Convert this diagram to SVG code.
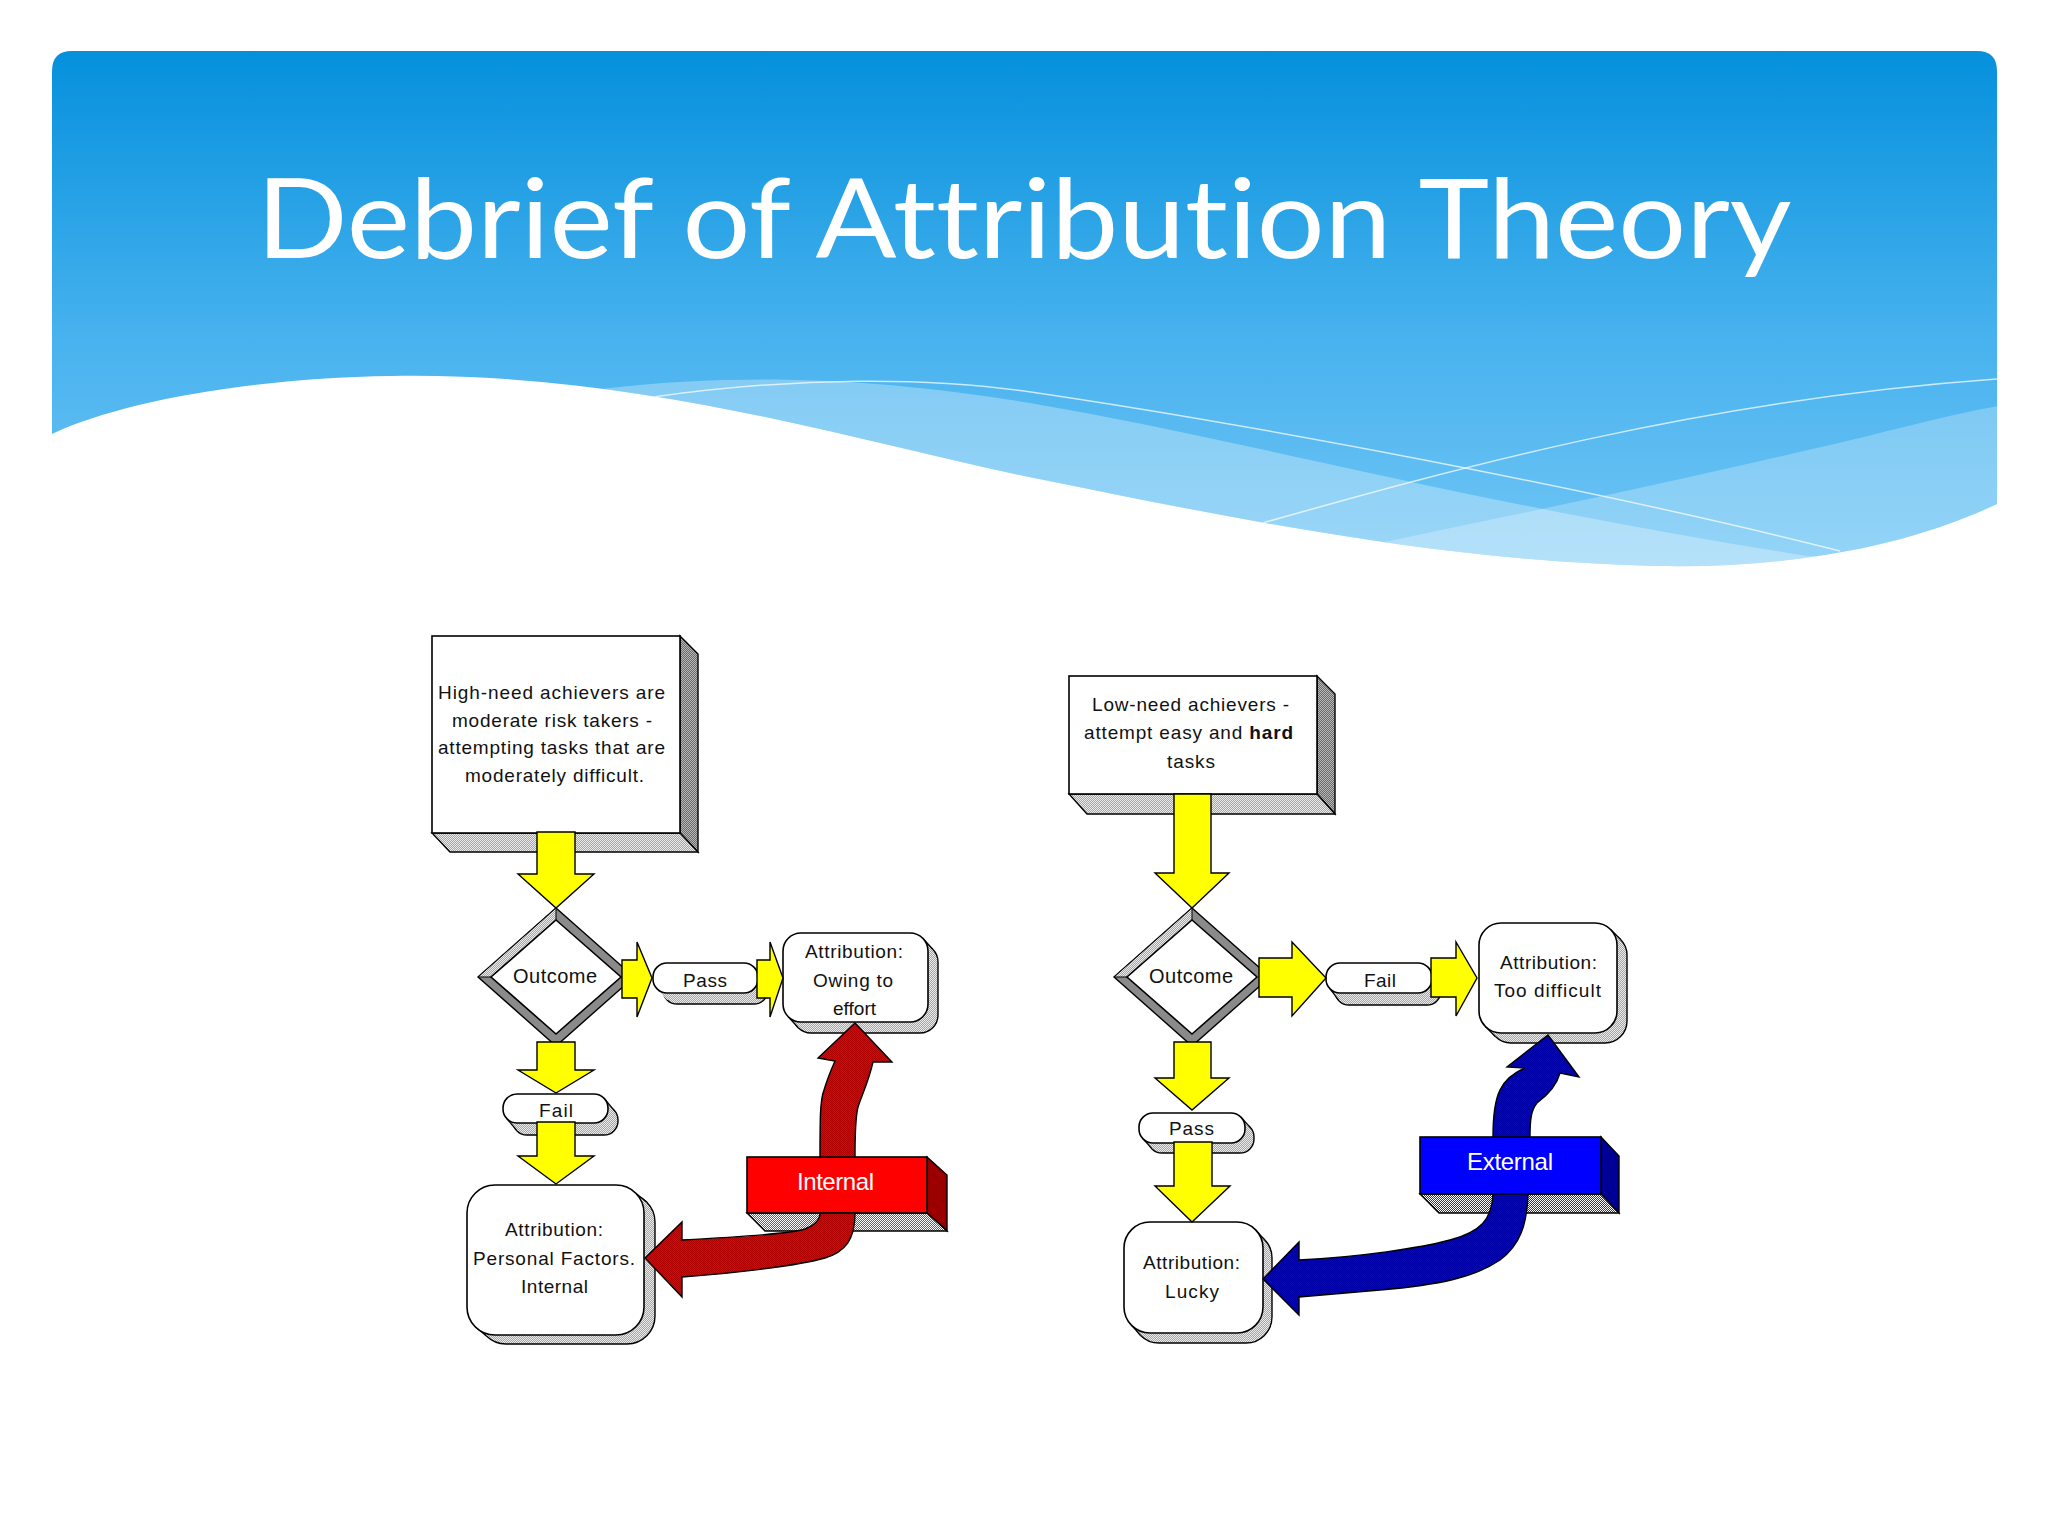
<svg xmlns="http://www.w3.org/2000/svg" width="2048" height="1536" viewBox="0 0 2048 1536">
<defs>
<linearGradient id="hdrGrad" x1="0" y1="51" x2="0" y2="570" gradientUnits="userSpaceOnUse">
<stop offset="0" stop-color="#0590dc"/>
<stop offset="0.55" stop-color="#47b2ee"/>
<stop offset="1" stop-color="#72c6f5"/>
</linearGradient>
<clipPath id="hdrClip"><path d="M52,71 Q52,51 72,51 L1977,51 Q1997,51 1997,71 L1997,504 C1900,550 1780,568 1660,566 C1450,562 1250,522 1024,476 C850,440 640,372 392,376 C250,378 120,402 52,434 Z"/></clipPath>
<pattern id="pGreyD" width="2" height="2" patternUnits="userSpaceOnUse"><rect width="2" height="2" fill="#6a6a6a"/><rect width="1" height="1" fill="#b8b8b8"/><rect x="1" y="1" width="1" height="1" fill="#b8b8b8"/></pattern>
<pattern id="pGreyL" width="2" height="2" patternUnits="userSpaceOnUse"><rect width="2" height="2" fill="#a4a4a4"/><rect width="1" height="1" fill="#ececec"/><rect x="1" y="1" width="1" height="1" fill="#ececec"/></pattern>
<pattern id="pPink" width="2" height="2" patternUnits="userSpaceOnUse"><rect width="2" height="2" fill="#ff2020"/><rect width="1" height="1" fill="#ffffff"/><rect x="1" y="1" width="1" height="1" fill="#ffffff"/></pattern>
<pattern id="pBlueL" width="2" height="2" patternUnits="userSpaceOnUse"><rect width="2" height="2" fill="#2020ff"/><rect width="1" height="1" fill="#ffffff"/><rect x="1" y="1" width="1" height="1" fill="#ffffff"/></pattern>
<pattern id="pRedArrow" width="2" height="2" patternUnits="userSpaceOnUse"><rect width="2" height="2" fill="#e80000"/><rect width="1" height="1" fill="#b00000"/><rect x="1" y="1" width="1" height="1" fill="#b00000"/></pattern>
<pattern id="pBlueArrow" width="2" height="2" patternUnits="userSpaceOnUse"><rect width="2" height="2" fill="#0000e0"/><rect width="1" height="1" fill="#0000a8"/><rect x="1" y="1" width="1" height="1" fill="#0000a8"/></pattern>
<pattern id="pRedSide" width="2" height="2" patternUnits="userSpaceOnUse"><rect width="2" height="2" fill="#800000"/><rect width="1" height="1" fill="#a00000"/><rect x="1" y="1" width="1" height="1" fill="#a00000"/></pattern>
<pattern id="pBlueSide" width="2" height="2" patternUnits="userSpaceOnUse"><rect width="2" height="2" fill="#000070"/><rect width="1" height="1" fill="#000098"/><rect x="1" y="1" width="1" height="1" fill="#000098"/></pattern>
</defs>
<style>
.t{font-family:"Liberation Sans",Arial,sans-serif;font-size:19px;fill:#111}
.tw{font-family:"Liberation Sans",Arial,sans-serif;font-size:24px;fill:#ffffff}
.title{font-family:Lato,"Open Sans",sans-serif;font-size:111px;fill:#ffffff;font-variant-ligatures:none;font-feature-settings:"liga" 0,"dlig" 0}
.front{fill:#ffffff;stroke:#000;stroke-width:1.6}
.sideD{fill:url(#pGreyD);stroke:#000;stroke-width:1.4}
.sideL{fill:url(#pGreyL);stroke:#000;stroke-width:1.4}
.shb{fill:url(#pGreyL);stroke:#000;stroke-width:1.4}
.shp{fill:url(#pGreyL);stroke:none}
.shl{stroke:#000;stroke-width:1.4}
.band{fill:#8a8a8a;stroke:#000;stroke-width:1.4}
.bandL{fill:url(#pGreyL);stroke:#000;stroke-width:1}
.yel{fill:#ffff00;stroke:#000;stroke-width:1.4;stroke-linejoin:miter}
.redA{fill:url(#pRedArrow);stroke:#000;stroke-width:1.4}
.bluA{fill:url(#pBlueArrow);stroke:#000;stroke-width:1.4}
</style>

<rect x="0" y="0" width="2048" height="1536" fill="#ffffff"/>

<g id="header">
<path d="M52,71 Q52,51 72,51 L1977,51 Q1997,51 1997,71 L1997,504 C1900,550 1780,568 1660,566 C1450,562 1250,522 1024,476 C850,440 640,372 392,376 C250,378 120,402 52,434 Z" fill="url(#hdrGrad)"/>
<g clip-path="url(#hdrClip)">
<path d="M601,389 C760,370 900,382 1024,402 C1250,440 1450,500 1808,556 L1998,556 L1998,620 L600,620 Z" fill="#ffffff" fill-opacity="0.3"/>
<path d="M1370,545 C1480,522 1650,487 1808,450 C1880,434 1950,414 1998,406 L1998,620 L1370,620 Z" fill="#ffffff" fill-opacity="0.25"/>
<path d="M653,397 C800,376 930,378 1024,391 C1250,424 1600,490 1840,551" fill="none" stroke="#ffffff" stroke-opacity="0.7" stroke-width="1.5"/>
<path d="M1259,524 C1450,470 1700,400 1997,379" fill="none" stroke="#ffffff" stroke-opacity="0.7" stroke-width="1.5"/>
</g>
<text class="title" x="1024" y="258" text-anchor="middle" textLength="1535" lengthAdjust="spacingAndGlyphs">Debrief of Attribution Theory</text>
</g>

<!-- LEFT DIAGRAM -->
<g id="node-high-need">
<polygon class="sideD" points="680,636 698,654 698,852 680,833"/>
<polygon class="sideL" points="432,833 680,833 698,852 450,852"/>
<rect class="front" x="432" y="636" width="248" height="197"/>
<text class="t" x="438" y="699" textLength="227" lengthAdjust="spacing">High-need achievers are</text>
<text class="t" x="452" y="727" textLength="200" lengthAdjust="spacing">moderate risk takers -</text>
<text class="t" x="438" y="754" textLength="227" lengthAdjust="spacing">attempting tasks that are</text>
<text class="t" x="465" y="782" textLength="179" lengthAdjust="spacing">moderately difficult.</text>
</g>

<g id="node-outcome-left">
<polygon class="band" points="556,908 634,977 556,1046 478,977"/>
<polygon class="bandL" points="478,977 556,908 556,920 491,977"/>
<polygon class="front" points="556,920 621,977 556,1034 491,977"/>
<text class="t" x="513" y="983" textLength="84" lengthAdjust="spacing" style="font-size:20px">Outcome</text>
</g>

<g id="node-pass-left">
<rect class="shb" x="663" y="974" width="105" height="30" rx="14"/>
<polygon class="shp" points="753.9,967.1 763.9,978.1 667.1,999.9 657.1,988.9"/>
<line class="shl" x1="753.9" y1="967.1" x2="763.9" y2="978.1"/>
<rect class="front" x="653" y="963" width="105" height="30" rx="14"/>
<text class="t" x="683" y="987" textLength="44" lengthAdjust="spacing">Pass</text>
</g>

<g id="node-owing">
<rect class="shb" x="793" y="944" width="145" height="89" rx="18"/>
<polygon class="shp" points="922.7,938.3 932.7,949.3 798.3,1027.7 788.3,1016.7"/>
<line class="shl" x1="922.7" y1="938.3" x2="932.7" y2="949.3"/>
<line class="shl" x1="788.3" y1="1016.7" x2="798.3" y2="1027.7"/>
<rect class="front" x="783" y="933" width="145" height="89" rx="18"/>
<text class="t" x="805" y="958" textLength="98" lengthAdjust="spacing">Attribution:</text>
<text class="t" x="813" y="987" textLength="80" lengthAdjust="spacing">Owing to</text>
<text class="t" x="833" y="1015" textLength="43" lengthAdjust="spacing">effort</text>
</g>

<g id="node-fail-left">
<rect class="shb" x="513" y="1106" width="105" height="29" rx="14"/>
<polygon class="shp" points="603.9,1098.1 613.9,1110.1 517.1,1130.9 507.1,1118.9"/>
<line class="shl" x1="603.9" y1="1098.1" x2="613.9" y2="1110.1"/>
<line class="shl" x1="507.1" y1="1118.9" x2="517.1" y2="1130.9"/>
<rect class="front" x="503" y="1094" width="105" height="29" rx="14"/>
<text class="t" x="539" y="1117" textLength="34" lengthAdjust="spacing">Fail</text>
</g>

<g id="node-personal">
<rect class="shb" x="478" y="1194" width="177" height="150" rx="28"/>
<polygon class="shp" points="635.8,1193.2 646.8,1202.2 486.2,1335.8 475.2,1326.8"/>
<line class="shl" x1="635.8" y1="1193.2" x2="646.8" y2="1202.2"/>
<line class="shl" x1="475.2" y1="1326.8" x2="486.2" y2="1335.8"/>
<rect class="front" x="467" y="1185" width="177" height="150" rx="28"/>
<text class="t" x="505" y="1236" textLength="98" lengthAdjust="spacing">Attribution:</text>
<text class="t" x="473" y="1265" textLength="162" lengthAdjust="spacing">Personal Factors.</text>
<text class="t" x="521" y="1293" textLength="67" lengthAdjust="spacing">Internal</text>
</g>

<g id="node-internal">
<polygon points="927,1157 947,1175 947,1231 927,1213" fill="url(#pRedSide)" stroke="#000" stroke-width="1.4"/>
<polygon points="747,1213 927,1213 947,1231 765,1231" fill="url(#pPink)" stroke="#000" stroke-width="1.4"/>
<rect x="747" y="1157" width="180" height="56" fill="#ff0000" stroke="#000" stroke-width="1.6"/>
<text class="tw" x="797" y="1190" textLength="77" lengthAdjust="spacing">Internal</text>
</g>

<!-- RIGHT DIAGRAM -->
<g id="node-low-need">
<polygon class="sideD" points="1317,676 1335,694 1335,814 1317,794"/>
<polygon class="sideL" points="1069,794 1317,794 1335,814 1087,814"/>
<rect class="front" x="1069" y="676" width="248" height="118"/>
<text class="t" x="1092" y="711" textLength="197" lengthAdjust="spacing">Low-need achievers -</text>
<text class="t" x="1084" y="739" textLength="209" lengthAdjust="spacing">attempt easy and <tspan font-weight="bold">hard</tspan></text>
<text class="t" x="1167" y="768" textLength="48" lengthAdjust="spacing">tasks</text>
</g>

<g id="node-outcome-right">
<polygon class="band" points="1192,908 1270,977 1192,1046 1114,977"/>
<polygon class="bandL" points="1114,977 1192,908 1192,920 1127,977"/>
<polygon class="front" points="1192,920 1257,977 1192,1034 1127,977"/>
<text class="t" x="1149" y="983" textLength="84" lengthAdjust="spacing" style="font-size:20px">Outcome</text>
</g>

<g id="node-fail-right">
<rect class="shb" x="1335" y="975" width="106" height="30" rx="14"/>
<polygon class="shp" points="1427.9,967.1 1436.9,979.1 1339.1,1000.9 1330.1,988.9"/>
<line class="shl" x1="1427.9" y1="967.1" x2="1436.9" y2="979.1"/>
<line class="shl" x1="1330.1" y1="988.9" x2="1339.1" y2="1000.9"/>
<rect class="front" x="1326" y="963" width="106" height="30" rx="14"/>
<text class="t" x="1364" y="987" textLength="32" lengthAdjust="spacing">Fail</text>
</g>

<g id="node-too-difficult">
<rect class="shb" x="1489" y="933" width="138" height="110" rx="22"/>
<polygon class="shp" points="1610.6,929.4 1620.6,939.4 1495.4,1036.6 1485.4,1026.6"/>
<line class="shl" x1="1610.6" y1="929.4" x2="1620.6" y2="939.4"/>
<line class="shl" x1="1485.4" y1="1026.6" x2="1495.4" y2="1036.6"/>
<rect class="front" x="1479" y="923" width="138" height="110" rx="22"/>
<text class="t" x="1500" y="969" textLength="97" lengthAdjust="spacing">Attribution:</text>
<text class="t" x="1494" y="997" textLength="107" lengthAdjust="spacing">Too difficult</text>
</g>

<g id="node-pass-right">
<rect class="shb" x="1148" y="1123" width="106" height="30" rx="14"/>
<polygon class="shp" points="1240.9,1117.1 1249.9,1127.1 1152.1,1148.9 1143.1,1138.9"/>
<line class="shl" x1="1240.9" y1="1117.1" x2="1249.9" y2="1127.1"/>
<line class="shl" x1="1143.1" y1="1138.9" x2="1152.1" y2="1148.9"/>
<rect class="front" x="1139" y="1113" width="106" height="30" rx="14"/>
<text class="t" x="1169" y="1135" textLength="45" lengthAdjust="spacing">Pass</text>
</g>

<g id="node-lucky">
<rect class="shb" x="1133" y="1232" width="139" height="111" rx="26"/>
<polygon class="shp" points="1255.4,1229.6 1264.4,1239.6 1140.6,1335.4 1131.6,1325.4"/>
<line class="shl" x1="1255.4" y1="1229.6" x2="1264.4" y2="1239.6"/>
<line class="shl" x1="1131.6" y1="1325.4" x2="1140.6" y2="1335.4"/>
<rect class="front" x="1124" y="1222" width="139" height="111" rx="26"/>
<text class="t" x="1143" y="1269" textLength="97" lengthAdjust="spacing">Attribution:</text>
<text class="t" x="1165" y="1298" textLength="54" lengthAdjust="spacing">Lucky</text>
</g>

<g id="node-external">
<polygon points="1601,1137 1619,1156 1619,1213 1601,1194" fill="url(#pBlueSide)" stroke="#000" stroke-width="1.4"/>
<polygon points="1420,1194 1601,1194 1619,1213 1439,1213" fill="url(#pBlueL)" stroke="#000" stroke-width="1.4"/>
<rect x="1420" y="1137" width="181" height="57" fill="#0000ff" stroke="#000" stroke-width="1.6"/>
<text class="tw" x="1467" y="1170" textLength="86" lengthAdjust="spacing">External</text>
</g>

<g id="connectors">
<polygon class="yel" points="537,832 575,832 575,874 594,874 556,908 518,874 537,874"/>
<polygon class="yel" points="622,960 637,960 637,942 652,978 637,1017 637,998 622,998"/>
<polygon class="yel" points="757,960 770,960 770,942 783,978 770,1017 770,998 757,998"/>
<polygon class="yel" points="537,1042 575,1042 575,1070 594,1070 556,1093 518,1070 537,1070"/>
<polygon class="yel" points="537,1122 575,1122 575,1156 594,1156 556,1184 518,1156 537,1156"/>
<polygon class="yel" points="1174,794 1211,794 1211,873 1229,873 1192,908 1155,873 1174,873"/>
<polygon class="yel" points="1259,958 1292,958 1292,942 1326,978 1292,1016 1292,997 1259,997"/>
<polygon class="yel" points="1431,958 1456,958 1456,942 1477,978 1456,1016 1456,997 1431,997"/>
<polygon class="yel" points="1174,1042 1211,1042 1211,1078 1229,1078 1192,1110 1155,1078 1174,1078"/>
<polygon class="yel" points="1174,1142 1212,1142 1212,1186 1230,1186 1192,1222 1155,1186 1174,1186"/>
<path class="redA" d="M855,1023 L892,1062 L873,1062 C869,1080 862,1095 858,1107 C856,1115 855,1125 855,1157 L820,1157 C820,1120 820,1100 824,1090 C827,1080 831,1070 835,1061 L818,1058 Z"/>
<path class="redA" d="M855,1213 C855,1240 845,1252 825,1258 C800,1265 740,1273 682,1277 L682,1297 L645,1258 L682,1222 L682,1240 C740,1237 790,1234 805,1229 C815,1225 820,1219 820,1213 Z"/>
<path class="bluA" d="M1548,1035 L1579,1077 L1560,1073 C1556,1088 1545,1097 1537,1103 C1531,1110 1530,1120 1530,1137 L1493,1137 C1493,1115 1495,1100 1500,1090 C1505,1080 1513,1073 1525,1068 L1507,1067 Z"/>
<path class="bluA" d="M1528,1194 C1527,1225 1520,1245 1500,1260 C1475,1277 1440,1285 1380,1290 L1299,1297 L1299,1315 L1263,1279 L1299,1242 L1299,1260 C1360,1257 1420,1248 1450,1240 C1480,1232 1492,1220 1493,1194 Z"/>
</g>
</svg>
